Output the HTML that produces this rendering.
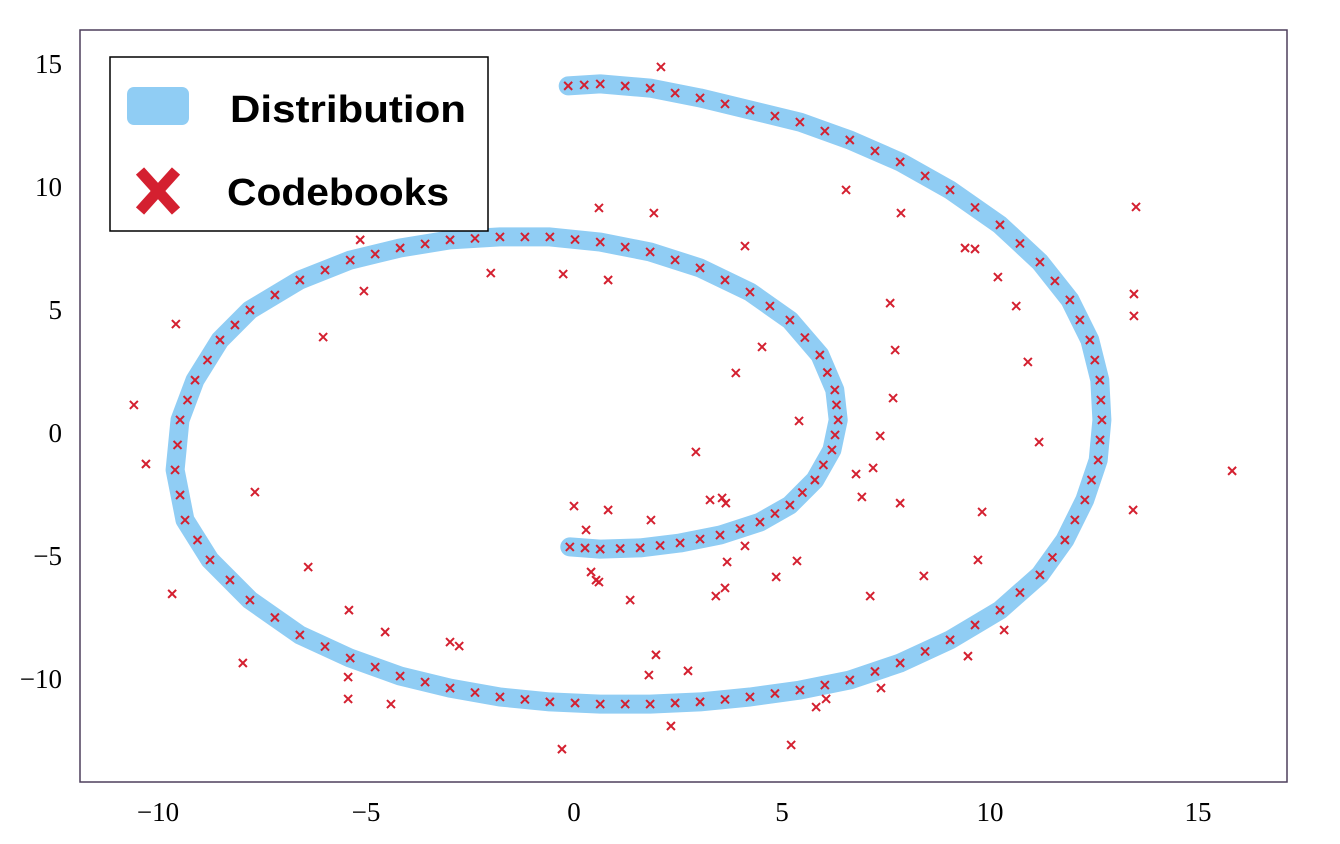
<!DOCTYPE html>
<html><head><meta charset="utf-8"><style>
html,body{margin:0;padding:0;background:#fff;}
svg{display:block;}
</style></head><body>
<svg id="chart" width="1340" height="844" viewBox="0 0 1340 844" xmlns="http://www.w3.org/2000/svg">
<rect x="0" y="0" width="1340" height="844" fill="#fff"/>
<g id="marks"></g>
<rect x="80" y="30" width="1207" height="752" fill="none" stroke="#4d3f5c" stroke-width="1.5"/>
<g id="axes"></g>
<g>
<rect x="110" y="57" width="378" height="174" fill="#fff" stroke="#000" stroke-width="1.5"/>
<rect x="127" y="87" width="62" height="38" rx="7" fill="#90cdf4"/>
<g stroke="#d42030" stroke-width="11" stroke-linecap="butt">
<line x1="140" y1="171" x2="176" y2="211"/><line x1="176" y1="171" x2="140" y2="211"/></g>
<text x="230" y="122" textLength="236" lengthAdjust="spacingAndGlyphs" font-family="Liberation Sans, sans-serif" font-weight="bold" font-size="38" fill="#000">Distribution</text>
<text x="227" y="205" textLength="222" lengthAdjust="spacingAndGlyphs" font-family="Liberation Sans, sans-serif" font-weight="bold" font-size="38" fill="#000">Codebooks</text>
</g>
</svg>
<script>
const xTicks=[-10,-5,0,5,10,15];
const yTicks=[15,10,5,0,-5,-10];
const spiralX=[-0.14,0.63,1.83,3.03,4.23,5.43,6.63,7.84,9.04,10.24,11.20,11.92,12.40,12.64,12.69,12.60,12.28,11.80,11.20,10.24,9.04,7.84,6.63,5.43,4.23,3.03,1.83,0.63,-0.58,-1.78,-2.98,-4.18,-5.38,-6.59,-7.79,-8.75,-9.35,-9.59,-9.47,-9.11,-8.51,-7.79,-6.59,-5.38,-4.18,-2.98,-1.78,-0.58,0.63,1.83,3.03,4.23,5.19,5.91,6.27,6.35,6.20,5.79,5.19,4.47,3.51,2.55,1.59,0.63,-0.10];
const spiralY=[14.11,14.19,14.02,13.62,13.13,12.64,11.91,11.02,9.88,8.46,6.95,5.41,3.78,2.15,0.53,-1.10,-2.72,-4.35,-5.77,-7.20,-8.41,-9.35,-10.04,-10.45,-10.73,-10.93,-11.02,-11.02,-10.93,-10.73,-10.37,-9.88,-9.15,-8.21,-6.79,-5.16,-3.54,-1.50,0.53,2.15,3.78,5.00,6.22,7.03,7.52,7.85,7.97,7.97,7.76,7.36,6.71,5.73,4.59,3.17,1.75,0.53,-0.69,-1.91,-2.93,-3.62,-4.15,-4.47,-4.67,-4.72,-4.63];
const outX=[2.09,0.60,1.92,4.11,6.54,7.86,9.40,9.64,13.51,10.19,10.63,13.46,13.46,7.60,7.72,10.91,4.52,3.89,7.67,7.36,7.19,5.41,2.93,6.78,6.92,7.84,9.81,9.71,11.18,13.44,15.82,-5.14,-5.05,-6.03,-9.57,-10.58,-10.29,-7.67,-2.00,-0.26,0.82,0,0.29,0.82,1.85,3.27,3.56,3.65,5.36,4.11,3.68,0.41,0.53,0.60,1.35,3.41,3.63,4.86,-6.39,-5.41,-4.54,-9.66,-2.98,-2.76,-7.96,-5.43,-5.43,-4.40,1.97,2.74,1.80,2.33,-0.29,5.22,5.82,6.06,7.38,7.12,8.41,9.47,10.34];
const outY=[14.88,9.15,8.94,7.60,9.88,8.94,7.52,7.48,9.19,6.34,5.16,5.65,4.76,5.28,3.37,2.89,3.50,2.44,1.42,-0.12,-1.42,0.49,-0.77,-1.67,-2.60,-2.85,-3.21,-5.16,-0.37,-3.13,-1.54,7.85,5.77,3.90,4.43,1.14,-1.26,-2.40,6.50,6.46,6.22,-2.97,-3.94,-3.13,-3.54,-2.72,-2.64,-2.85,-5.20,-4.59,-5.24,-5.65,-5.98,-6.06,-6.79,-6.63,-6.30,-5.85,-5.45,-7.20,-8.09,-6.54,-8.50,-8.66,-9.35,-9.92,-10.81,-11.02,-9.02,-9.67,-9.84,-11.91,-12.85,-12.68,-11.14,-10.81,-10.37,-6.63,-5.81,-9.07,-8.01];

const NS='http://www.w3.org/2000/svg';
function sx(v){return 574+v*41.6;}
function sy(v){return 433-v*24.6;}
const marks=document.getElementById('marks');
const axes=document.getElementById('axes');

let d='';
for(let i=0;i<spiralX.length;i++){d+=(i?'L':'M')+sx(spiralX[i]).toFixed(1)+' '+sy(spiralY[i]).toFixed(1);}
const band=document.createElementNS(NS,'path');
band.setAttribute('d',d);
band.setAttribute('fill','none');
band.setAttribute('stroke','#90cdf4');
band.setAttribute('stroke-width','19');
band.setAttribute('stroke-linejoin','round');
band.setAttribute('stroke-linecap','round');


marks.appendChild(band);

function cross(x,y,name){
  const g=document.createElementNS(NS,'path');
  const s=4;
  g.setAttribute('d',`M${x-s} ${y-s}L${x+s} ${y+s}M${x+s} ${y-s}L${x-s} ${y+s}`);
  g.setAttribute('stroke','#d42030');
  g.setAttribute('stroke-width','2');
  
  
  marks.appendChild(g);
}
for(let i=0;i<spiralX.length;i++){
  cross(sx(spiralX[i]),sy(spiralY[i]),'codebook-marker');
  if(i<spiralX.length-1){cross((sx(spiralX[i])+sx(spiralX[i+1]))/2,(sy(spiralY[i])+sy(spiralY[i+1]))/2,'codebook-marker');}
}
for(let i=0;i<outX.length;i++){cross(sx(outX[i]),sy(outY[i]),'codebook-outlier');}

function fmt(v){return v<0?'\u2212'+Math.abs(v):String(v);}
xTicks.forEach(v=>{
  const t=document.createElementNS(NS,'text');
  t.setAttribute('x',sx(v));t.setAttribute('y',821);
  t.setAttribute('text-anchor','middle');
  t.setAttribute('font-family','Liberation Serif, serif');
  t.setAttribute('font-size','27');
  t.textContent=fmt(v);
  
  
  axes.appendChild(t);
});
yTicks.forEach(v=>{
  const t=document.createElementNS(NS,'text');
  t.setAttribute('x',62);t.setAttribute('y',sy(v)+9);
  t.setAttribute('text-anchor','end');
  t.setAttribute('font-family','Liberation Serif, serif');
  t.setAttribute('font-size','27');
  t.textContent=fmt(v);
  
  
  axes.appendChild(t);
});
</script>
</body></html>
